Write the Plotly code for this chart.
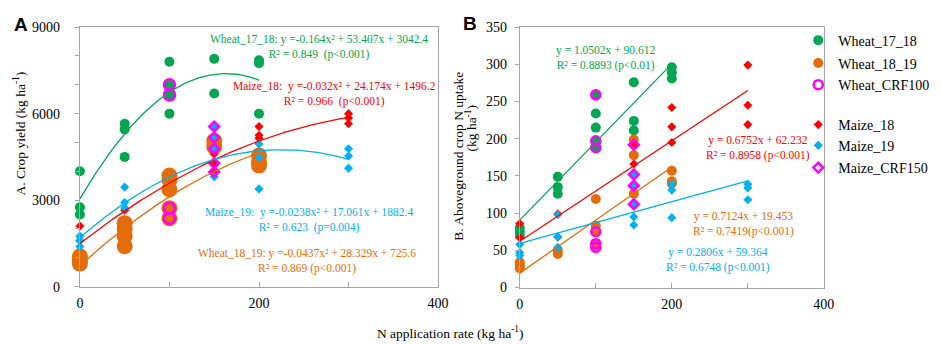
import numpy as np
import plotly.graph_objects as go

W, H = 941, 344

# ---------------- Panel A: crop yield (kg ha-1) ----------------
a_w1718_x = [0, 0, 0, 50, 50, 50, 100, 100, 100, 100, 150, 150, 200, 200, 200]
a_w1718_y = [4000, 2750, 2500, 5650, 5450, 4500, 7800, 7000, 6650, 6000, 7900, 6700, 7850, 7750, 6000]

a_w1819_x = [0, 0, 0, 50, 50, 50, 50, 100, 100, 100, 100, 100, 150, 150, 200, 200, 200]
a_w1819_y = [1050, 900, 800, 2200, 2000, 1750, 1400, 3850, 3700, 3370, 2720, 2370, 5050, 4850, 4550, 4300, 4200]

a_wcrf_x = [100, 100, 100, 100]
a_wcrf_y = [7000, 6650, 2720, 2370]

a_m18_x = [0, 0, 50, 150, 150, 150, 200, 200, 200, 300, 300, 300]
a_m18_y = [2100, 1600, 2650, 4600, 4240, 3980, 5550, 5250, 5150, 6000, 5850, 5650]

a_m19_x = [0, 0, 0, 50, 50, 50, 150, 150, 150, 150, 200, 200, 200, 300, 300, 300]
a_m19_y = [1750, 1600, 1390, 3450, 2920, 2730, 5550, 5170, 4780, 3810, 4950, 4480, 3390, 4780, 4530, 4110]

a_mcrf_x = [150, 150, 150, 150, 150]
a_mcrf_y = [5550, 5170, 4780, 4280, 3980]

# quadratic trend lines (highest power first) and their N range
a_fit_w1718 = [-0.164, 53.407, 3042.4]
a_fit_w1819 = [-0.0437, 28.329, 725.6]
a_fit_m18 = [-0.032, 24.174, 1496.2]
a_fit_m19 = [-0.0602, 27.1, 1700.0]
a_fit_xmax = [200, 200, 300, 300]

# ---------------- Panel B: aboveground crop N uptake (kg ha-1) ----------------
b_w1718_x = [0, 0, 0, 50, 50, 50, 100, 100, 100, 100, 100, 150, 150, 150, 200, 200, 200]
b_w1718_y = [80, 75, 70, 149, 135, 126, 259, 234, 215, 198, 188, 276, 224, 211, 296, 289, 281]

b_w1819_x = [0, 0, 0, 50, 50, 100, 100, 100, 100, 100, 150, 150, 150, 200, 200, 200]
b_w1819_y = [34, 30, 26, 50, 45, 119, 83, 75, 59, 54, 199, 178, 126, 157, 143, 140]

b_wcrf_x = [100, 100, 100, 100, 100, 100]
b_wcrf_y = [259, 197, 188, 75, 59, 54]

b_m18_x = [0, 0, 50, 50, 150, 150, 200, 200, 200, 300, 300, 300]
b_m18_y = [86, 67, 99, 68, 192, 166, 242, 216, 195, 299, 245, 219]

b_m19_x = [0, 0, 0, 50, 50, 50, 150, 150, 150, 150, 150, 200, 200, 200, 300, 300, 300]
b_m19_y = [58, 47, 43, 98, 68, 54, 152, 137, 112, 95, 84, 139, 131, 94, 139, 134, 118]

b_mcrf_x = [150, 150, 150, 150]
b_mcrf_y = [192, 152, 137, 112]

# linear trend lines (slope, intercept) and their N range
b_fit_w1718 = [1.0502, 90.612]
b_fit_w1819 = [0.7124, 19.453]
b_fit_m18 = [0.6752, 62.232]
b_fit_m19 = [0.2806, 59.364]
b_fit_xmax = [200, 200, 300, 300]

GREEN = "#00A651"
ORANGE = "#E46C0A"
RED = "#FF0000"
CYAN = "#00B0F0"
MAG = "#FF00FF"
FRAME = "#A6A6A6"
SERIF = "Liberation Serif, Times New Roman, DejaVu Serif, serif"

fig = go.Figure()


def pts(x, y, xa, ya, name, color, symbol, size, showlegend, legend="legend", open_=False):
    if open_:
        marker = dict(symbol=symbol, size=size, color="rgba(0,0,0,0)",
                      line=dict(color=color, width=2.6))
    else:
        marker = dict(symbol=symbol, size=size, color=color, line=dict(width=0))
    fig.add_trace(go.Scatter(x=x, y=y, mode="markers", name=name, marker=marker,
                             xaxis=xa, yaxis=ya, legend=legend,
                             showlegend=showlegend, cliponaxis=False))


def curve(coefs, xmax, xa, ya, color):
    xs = np.linspace(0, xmax, 121)
    ys = np.polyval(coefs, xs)
    fig.add_trace(go.Scatter(x=xs, y=ys, mode="lines", line=dict(color=color, width=1.3),
                             xaxis=xa, yaxis=ya, showlegend=False, hoverinfo="skip"))


# Panel A
pts(a_w1718_x, a_w1718_y, "x", "y", "Wheat_17_18", GREEN, "circle", 10, False)
pts(a_w1819_x, a_w1819_y, "x", "y", "Wheat_18_19", ORANGE, "circle", 16, False)
pts(a_m18_x, a_m18_y, "x", "y", "Maize_18", RED, "diamond", 7, False)
pts(a_m19_x, a_m19_y, "x", "y", "Maize_19", CYAN, "diamond", 7, False)
pts(a_wcrf_x, a_wcrf_y, "x", "y", "Wheat_CRF100", MAG, "circle", 11, False, open_=True)
pts(a_mcrf_x, a_mcrf_y, "x", "y", "Maize_CRF150", MAG, "diamond", 7.5, False, open_=True)
for c, xm, col in zip([a_fit_w1718, a_fit_w1819, a_fit_m18, a_fit_m19], a_fit_xmax,
                      [GREEN, ORANGE, RED, CYAN]):
    curve(c, xm, "x", "y", col)

# Panel B (carries the legend entries, one small legend per row)
pts(b_w1718_x, b_w1718_y, "x2", "y2", "Wheat_17_18", GREEN, "circle", 10, True, "legend")
pts(b_w1819_x, b_w1819_y, "x2", "y2", "Wheat_18_19", ORANGE, "circle", 10, True, "legend2")
pts(b_m18_x, b_m18_y, "x2", "y2", "Maize_18", RED, "diamond", 7, True, "legend4")
pts(b_m19_x, b_m19_y, "x2", "y2", "Maize_19", CYAN, "diamond", 7, True, "legend5")
pts(b_wcrf_x, b_wcrf_y, "x2", "y2", "Wheat_CRF100", MAG, "circle", 9, True, "legend3", open_=True)
pts(b_mcrf_x, b_mcrf_y, "x2", "y2", "Maize_CRF150", MAG, "diamond", 7.5, True, "legend6", open_=True)
for c, xm, col in zip([b_fit_w1718, b_fit_w1819, b_fit_m18, b_fit_m19], b_fit_xmax,
                      [GREEN, ORANGE, RED, CYAN]):
    curve(c, xm, "x2", "y2", col)


def px(x):
    return x / W


def py(y):
    return 1 - y / H


ax_common = dict(showgrid=False, zeroline=False, showline=True, mirror=True,
                 linecolor=FRAME, linewidth=1, tickcolor=FRAME,
                 tickfont=dict(family=SERIF, size=14, color="black"))

legend_rows = [26.7, 50.7, 73.3, 115, 136.7, 160]
legends = {}
for i, yrow in enumerate(legend_rows):
    key = "legend" if i == 0 else "legend%d" % (i + 1)
    legends[key] = dict(x=px(799), y=py(yrow), xanchor="left", yanchor="middle",
                        font=dict(family=SERIF, size=14, color="black"),
                        bgcolor="rgba(0,0,0,0)", itemwidth=30)

fig.update_layout(
    width=W, height=H, margin=dict(l=0, r=0, t=0, b=0),
    paper_bgcolor="white", plot_bgcolor="white",
    font=dict(family=SERIF),
    xaxis=dict(domain=[px(69), px(433)], range=[0, 400], dtick=200, ticks="inside",
               ticklen=5, minor=dict(dtick=100, ticks="inside", ticklen=5, tickcolor=FRAME),
               ticklabelstandoff=4, anchor="y", **ax_common),
    yaxis=dict(domain=[py(284), py(12.7)], range=[0, 9000], dtick=3000, ticks="outside",
               ticklen=4, minor=dict(dtick=1000, ticks="outside", ticklen=4, tickcolor=FRAME),
               ticklabelstandoff=12, anchor="x", **ax_common),
    xaxis2=dict(domain=[px(516), px(825)], range=[0, 400], dtick=200, ticks="inside",
                ticklen=5, minor=dict(dtick=100, ticks="inside", ticklen=5, tickcolor=FRAME),
                ticklabelstandoff=4, anchor="y2", **ax_common),
    yaxis2=dict(domain=[py(285), py(12.7)], range=[0, 350], dtick=50, ticks="outside",
                ticklen=4, ticklabelstandoff=5, anchor="x2", **ax_common),
    showlegend=True,
    **legends,
)

ann = []


def text(x, y, s, color="black", size=11.5, angle=0, family=SERIF, bold=False):
    if bold:
        s = "<b>" + s + "</b>"
    ann.append(dict(x=px(x), y=py(y), xref="paper", yref="paper", text=s, showarrow=False,
                    xanchor="center", yanchor="middle", textangle=angle,
                    font=dict(family=family, size=size, color=color)))


# Panel A equations (two lines each)
text(312, 33.4, "Wheat_17_18: y =-0.164x² + 53.407x + 3042.4<br>R² = 0.849  (p<0.001)", GREEN)
text(328, 82.2, "Maize_18:  y =-0.032x² + 24.174x + 1496.2<br>R² = 0.966  (p<0.001)", RED)
text(302, 214, "Maize_19:  y =-0.0238x² + 17.061x + 1882.4<br>R² = 0.623  (p=0.004)", CYAN)
text(300, 256.7, "Wheat_18_19: y =-0.0437x² + 28.329x + 725.6<br>R² = 0.869 (p<0.001)", ORANGE)

# Panel B equations
text(603, 45, "y = 1.0502x + 90.612<br>R² = 0.8893 (p<0.01)", GREEN)
text(758.5, 139.2, "y = 0.6752x + 62.232<br>R² = 0.8958 (p<0.001)", RED)
text(743.3, 219, "y = 0.7124x + 19.453<br>R² = 0.7419(p<0.001)", ORANGE)
text(717.3, 256, "y = 0.2806x + 59.364<br>R² = 0.6748 (p<0.001)", CYAN)

# axis titles
text(8, 124, "A. Crop yield (kg ha<sup>-1</sup>)", size=13.5, angle=-90)
text(453.5, 148, "B. Aboveground crop N uptake", size=13.5, angle=-90)
text(467, 118, "(kg ha<sup>-1</sup>)", size=13.5, angle=-90)
text(446, 332, "N application rate (kg ha<sup>-1</sup>)", size=13.5)

# panel letters
text(9, 10, "A", size=19, family="Liberation Sans, Arial, sans-serif", bold=True)
text(465.5, 9, "B", size=19, family="Liberation Sans, Arial, sans-serif", bold=True)

fig.update_layout(annotations=ann)

fig.write_html("out.html")
